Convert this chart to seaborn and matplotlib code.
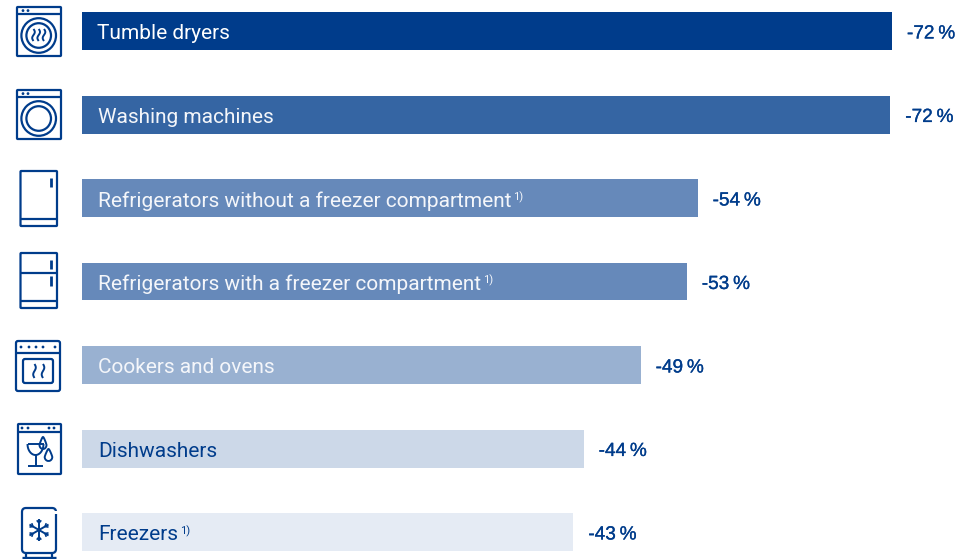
import matplotlib
matplotlib.use('Agg')
import matplotlib.pyplot as plt
import matplotlib.patheffects as pe
from matplotlib.patches import Rectangle, Circle, FancyBboxPatch
import numpy as np
import pandas as pd
import seaborn as sns

categories = ['Tumble dryers', 'Washing machines', 'Refrigerators without a freezer compartment',
              'Refrigerators with a freezer compartment', 'Cookers and ovens', 'Dishwashers', 'Freezers']
# bar lengths (the printed labels are rounded)
savings = [71.05, 70.9, 54.0, 53.05, 49.0, 44.0, 43.1]
value_labels = ['-72\u2009%', '-72\u2009%', '-54\u2009%', '-53\u2009%', '-49\u2009%', '-44\u2009%', '-43\u2009%']
footnotes = ['', '', '1)', '1)', '', '', '1)']

bar_colors = ['#003C8B', '#3565A3', '#6689BA', '#6689BA', '#99B1D1', '#CCD8E8', '#E5EBF4']
text_colors = ['white', '#F4F6FA', '#F4F6FA', '#F4F6FA', '#F4F6FA', '#003C8B', '#003C8B']
navy = '#003C8B'

df = pd.DataFrame({'category': categories, 'saving': savings})

W, H = 976, 559
fig = plt.figure(figsize=(W / 100, H / 100), dpi=100)
ax = fig.add_axes([82 / W, 0, 1 - 82 / W, 1])

sns.barplot(data=df, x='saving', y='category', hue='category', palette=bar_colors,
            width=38 / 83.5, legend=False, saturation=1, ax=ax)
ax.set_xlim(0, (W - 82) / 11.4)
ax.set_ylim((H - 31) / 83.5, -31 / 83.5)
ax.axis('off')

for i, cat in enumerate(categories):
    dx = 15 if i == 0 else 16.5
    t = ax.annotate(cat, xy=(0, i), xytext=(dx * 0.72, -0.7), textcoords='offset points', va='center_baseline',
                    color=text_colors[i], fontsize=15, family='Roboto')
    if footnotes[i]:
        ax.annotate(footnotes[i], xy=(1, 1), xycoords=t, xytext=(0.8, 0), textcoords='offset points',
                    va='top', color=text_colors[i], fontsize=8, family='Roboto')
    v = ax.annotate(value_labels[i], xy=(savings[i], i), xytext=(15 * 0.72, -0.7), textcoords='offset points',
                    va='center_baseline', color=navy, fontsize=13.7, family='Liberation Sans')
    v.set_path_effects([pe.withStroke(linewidth=0.2, foreground=navy)])

# icons, drawn in pixel coordinates on an overlay
ic = fig.add_axes([0, 0, 1, 1], zorder=3)
ic.set_xlim(0, W)
ic.set_ylim(H, 0)
ic.axis('off')
lw = 1.6


def box(x0, y0, x1, y1, r=0.8):
    ic.add_patch(FancyBboxPatch((x0 + r, y0 + r), x1 - x0 - 2 * r, y1 - y0 - 2 * r,
                                boxstyle='round,pad=%s,rounding_size=%s' % (r, r),
                                fc='none', ec=navy, lw=lw))


def line(xs, ys, w=lw):
    ic.plot(xs, ys, color=navy, lw=w, solid_capstyle='butt')


def dots(xs, y, r=1.4):
    for x in xs:
        ic.add_patch(Circle((x, y), r, fc=navy, ec='none'))


def squiggle(x, y0, y1, amp=1.3):
    ys = np.linspace(y0, y1, 30)
    line(x + amp * np.sin((ys - y0) / (y1 - y0) * 2 * np.pi), ys, 1.4)


def drop(x, top, bottom, w):
    t = np.linspace(0, 2 * np.pi, 60)
    r = (bottom - top) * 0.34
    cy = bottom - r
    ys = cy + r * np.cos(t)
    xs = x + w * np.sin(t) * (1 - 0.55 * np.clip((cy - ys) / r, 0, 1))
    ys = np.where(ys < cy, cy - (cy - ys) * (cy - top) / r, ys)
    line(xs, ys, 1.4)


# tumble dryer and washing machine
for top in (7, 90):
    box(17, top, 61, top + 49)
    line([17, 61], [top + 7, top + 7])
    dots([23, 28], top + 3.6)
    cy = top + 28.5
    ic.add_patch(Circle((38.7, cy), 17.3, fc='none', ec=navy, lw=lw))
    ic.add_patch(Circle((38.7, cy), 12.3, fc='none', ec=navy, lw=lw))
for x in (33.5, 38.7, 44):
    squiggle(x, 29, 41)

# fridges
box(20.5, 171, 57, 226)
line([20.5, 57], [219, 219])
line([51, 51], [178, 187], 2)
box(20.5, 253, 57, 308)
line([20.5, 57], [272.5, 272.5])
line([20.5, 57], [301, 301])
line([51, 51], [260, 269], 2)
line([51, 51], [276, 286], 2)

# oven
box(16, 341, 60, 391, 2)
line([16, 60], [353, 353])
dots([21, 29, 36, 43, 55], 347)
box(23, 359, 53, 383, 2)
squiggle(34.5, 364, 378)
squiggle(43, 364, 378)

# dishwasher
box(18, 424, 61, 474)
line([18, 61], [432, 432])
dots([22, 28, 49, 54], 428)
t = np.linspace(0, np.pi, 30)
line(35.5 + 8 * np.cos(t), 444 + 11 * np.sin(t), 1.4)
line([27.5, 43.5], [444, 444], 1.4)
line([35.5, 35.5], [455, 466], 1.4)
line([28, 43], [466, 466], 1.4)
drop(43, 437, 449, 3.5)
drop(48.5, 449, 461, 3.8)

# freezer
box(22, 508, 56, 553, 4)
line([22, 56], [558, 558], 2.4)
line([26, 26], [553, 558])
line([52, 52], [553, 558])
ic.add_patch(Rectangle((54, 511), 4, 3, fc='white', ec='none', zorder=5))
for a in np.deg2rad([90, 30, 150]):
    line([39 - 11 * np.cos(a), 39 + 11 * np.cos(a)], [530 - 11 * np.sin(a), 530 + 11 * np.sin(a)], 1.4)
    for s in (1, -1):
        bx, by = 39 + s * 7 * np.cos(a), 530 + s * 7 * np.sin(a)
        for d in (0.7, -0.7):
            line([bx, bx + s * 3.5 * np.cos(a + d)], [by, by + s * 3.5 * np.sin(a + d)], 1.2)

fig.savefig('out.png', dpi=100)
